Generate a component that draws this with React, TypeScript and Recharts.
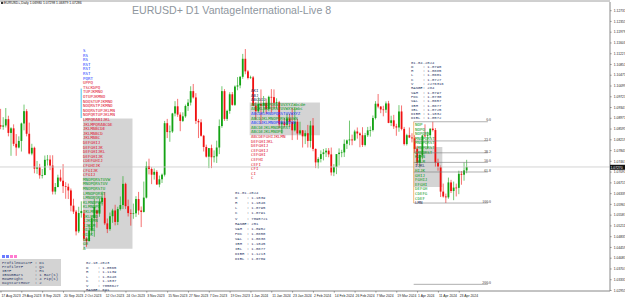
import React from "react";
import {
  ComposedChart,
  Bar,
  XAxis,
  YAxis,
  ReferenceLine,
  ReferenceArea,
} from "recharts";

// daily OHLC, 17 Aug 2023 .. 26 Apr 2024
const opens = [
  1.0873, 1.0868, 1.0872, 1.0894, 1.0846, 1.0862, 1.0808, 1.0795, 1.0818, 1.0879, 1.0922,
  1.0843, 1.0774, 1.0794, 1.0721, 1.0726, 1.0698, 1.0699, 1.0752, 1.0753, 1.0732, 1.0641, 1.0657, 1.069, 1.0679, 1.066, 1.0658, 1.0645, 1.0592, 1.0571, 1.0502, 1.0566,
  1.0565, 1.0476, 1.0468, 1.0505, 1.0548, 1.0575, 1.0564, 1.0605, 1.0619, 1.053, 1.051, 1.0555, 1.0575, 1.0535, 1.058, 1.0594, 1.0668, 1.059, 1.0566, 1.0564, 1.0565, 1.0615,
  1.0575, 1.057, 1.062, 1.073, 1.072, 1.07, 1.071, 1.0666, 1.0684, 1.07, 1.088, 1.0849, 1.0851, 1.0914, 1.0939, 1.091, 1.0888, 1.0904, 1.094, 1.0952, 1.0992, 1.097,
  1.0888, 1.0883, 1.0836, 1.0797, 1.0763, 1.0793, 1.0761, 1.0764, 1.0795, 1.087, 1.0992, 1.0895, 1.0923, 1.0981, 1.0944, 1.1008, 1.1012, 1.1042, 1.1105, 1.1061,
  1.1039, 1.104, 1.0941, 1.0922, 1.0947, 1.0941, 1.0951, 1.093, 1.0972, 1.0971, 1.0951, 1.0953, 1.0876, 1.0883, 1.0874, 1.0897, 1.0884, 1.0855, 1.0885, 1.0844, 1.0855, 1.0834, 1.0845,
  1.0818, 1.0872, 1.079, 1.0743, 1.0755, 1.0772, 1.0778, 1.0784, 1.0771, 1.0708, 1.0727, 1.0772, 1.0777, 1.0778, 1.0808, 1.082, 1.0823, 1.082, 1.0851, 1.0844, 1.0838,
  1.0804, 1.0838, 1.0855, 1.0856, 1.0898, 1.0948, 1.0938, 1.0928, 1.0927, 1.0949, 1.0881, 1.089, 1.0869, 1.0865, 1.0921, 1.086, 1.0807, 1.0838, 1.083, 1.0827,
  1.079, 1.0741, 1.0769, 1.0837, 1.0837, 1.0838, 1.0861, 1.0856, 1.0742, 1.0727, 1.0641, 1.0624, 1.0621, 1.0673, 1.0643, 1.0655, 1.0654, 1.0703, 1.07, 1.0715,
];
const highs = [
  1.093, 1.0901, 1.0933, 1.0906, 1.0866, 1.0876, 1.0842, 1.0834, 1.0882, 1.0945, 1.0929,
  1.0882, 1.0808, 1.0798, 1.0748, 1.0738, 1.072, 1.0767, 1.0769, 1.0768, 1.0768, 1.0671, 1.07, 1.0718, 1.0737, 1.0674, 1.0669, 1.0652, 1.0616, 1.0577, 1.0588, 1.0607,
  1.0577, 1.0482, 1.0525, 1.0553, 1.0618, 1.0578, 1.0617, 1.0641, 1.0639, 1.0547, 1.0568, 1.0581, 1.0595, 1.0588, 1.0624, 1.0695, 1.0672, 1.0613, 1.0579, 1.0599, 1.0625, 1.064,
  1.0589, 1.0676, 1.0746, 1.0756, 1.0726, 1.0722, 1.0716, 1.0697, 1.0704, 1.0888, 1.0895, 1.0872, 1.0916, 1.0957, 1.0965, 1.0918, 1.0918, 1.0945, 1.0964, 1.1009, 1.1017, 1.0985,
  1.0895, 1.0894, 1.0839, 1.0805, 1.0793, 1.0805, 1.0785, 1.0819, 1.0893, 1.1009, 1.0999, 1.0927, 1.0988, 1.0989, 1.1012, 1.1041, 1.1045, 1.1122, 1.1139, 1.1066,
  1.1046, 1.1045, 1.0953, 1.097, 1.0998, 1.0975, 1.0966, 1.0976, 1.0999, 1.0998, 1.0967, 1.0958, 1.089, 1.0898, 1.0914, 1.0912, 1.0933, 1.0933, 1.0896, 1.0885, 1.0856, 1.0855, 1.0874,
  1.0888, 1.0898, 1.0792, 1.0761, 1.0785, 1.079, 1.0793, 1.0793, 1.0795, 1.0737, 1.0771, 1.0792, 1.0787, 1.0823, 1.0823, 1.0889, 1.084, 1.0857, 1.0865, 1.0848, 1.0866,
  1.0846, 1.0867, 1.0869, 1.0907, 1.0957, 1.0982, 1.094, 1.0941, 1.0956, 1.0958, 1.0906, 1.0909, 1.0878, 1.0943, 1.0942, 1.0867, 1.0843, 1.0865, 1.0845, 1.0838,
  1.0801, 1.0774, 1.084, 1.0876, 1.085, 1.0861, 1.0885, 1.0863, 1.0756, 1.0732, 1.0669, 1.0634, 1.069, 1.0682, 1.0676, 1.0669, 1.0714, 1.0713, 1.0743, 1.0752,
];
const lows = [
  1.0859, 1.0857, 1.0865, 1.0834, 1.0766, 1.08, 1.0766, 1.0792, 1.0781, 1.0855, 1.0834,
  1.0771, 1.0768, 1.0705, 1.0703, 1.0686, 1.0687, 1.0698, 1.0732, 1.0716, 1.0631, 1.0631, 1.0656, 1.0675, 1.0636, 1.0616, 1.0615, 1.0572, 1.0563, 1.0488, 1.0496, 1.055,
  1.0468, 1.0448, 1.0467, 1.0492, 1.0483, 1.0515, 1.0553, 1.0592, 1.0524, 1.0496, 1.0504, 1.0532, 1.0523, 1.0524, 1.0575, 1.058, 1.058, 1.0554, 1.0522, 1.0546, 1.0552, 1.056,
  1.0517, 1.0568, 1.0617, 1.0701, 1.0667, 1.0683, 1.0664, 1.0656, 1.0671, 1.0694, 1.0828, 1.0815, 1.0846, 1.0904, 1.0902, 1.0852, 1.0884, 1.0899, 1.0923, 1.0942, 1.0966, 1.0877,
  1.0828, 1.0833, 1.0781, 1.076, 1.0723, 1.0723, 1.0743, 1.0741, 1.0772, 1.0864, 1.0888, 1.0888, 1.0913, 1.0941, 1.094, 1.0995, 1.1002, 1.1035, 1.1051, 1.1033,
  1.1035, 1.094, 1.0892, 1.0915, 1.0877, 1.0915, 1.0912, 1.0922, 1.0917, 1.0932, 1.0931, 1.0862, 1.0844, 1.0867, 1.0867, 1.0868, 1.0821, 1.0851, 1.0822, 1.0838, 1.0795, 1.0807, 1.0795,
  1.0795, 1.0782, 1.0723, 1.0722, 1.0743, 1.075, 1.0762, 1.0761, 1.0697, 1.0695, 1.0702, 1.0732, 1.0761, 1.0762, 1.079, 1.0803, 1.0803, 1.0818, 1.0826, 1.0796, 1.0797,
  1.0799, 1.0832, 1.0833, 1.0851, 1.0893, 1.0932, 1.0915, 1.0904, 1.0916, 1.088, 1.087, 1.086, 1.0836, 1.085, 1.0855, 1.0802, 1.0802, 1.0828, 1.0813, 1.0776,
  1.0732, 1.0724, 1.0754, 1.0831, 1.0791, 1.0828, 1.0851, 1.0727, 1.0714, 1.0622, 1.062, 1.0601, 1.0616, 1.0636, 1.0611, 1.0624, 1.0632, 1.0665, 1.0679, 1.0705,
];
const closes = [
  1.0868, 1.0872, 1.0894, 1.0846, 1.0862, 1.0808, 1.0795, 1.0818, 1.0879, 1.0922, 1.0843,
  1.0774, 1.0794, 1.0721, 1.0726, 1.0698, 1.0699, 1.0752, 1.0753, 1.0732, 1.0641, 1.0657, 1.069, 1.0679, 1.066, 1.0658, 1.0645, 1.0592, 1.0571, 1.0502, 1.0566, 1.0573,
  1.0476, 1.0468, 1.0505, 1.0548, 1.0588, 1.0564, 1.0605, 1.0619, 1.053, 1.051, 1.0555, 1.0575, 1.0535, 1.058, 1.0594, 1.0668, 1.059, 1.0566, 1.0564, 1.0565, 1.0615, 1.0575,
  1.057, 1.062, 1.073, 1.072, 1.07, 1.071, 1.0666, 1.0684, 1.07, 1.088, 1.0849, 1.0851, 1.0914, 1.0939, 1.091, 1.0888, 1.0904, 1.094, 1.0952, 1.0992, 1.097, 1.0888,
  1.0883, 1.0836, 1.0797, 1.0763, 1.0793, 1.0761, 1.0764, 1.0795, 1.087, 1.0992, 1.0895, 1.0923, 1.0981, 1.0944, 1.1008, 1.1012, 1.1042, 1.1105, 1.1061, 1.1038,
  1.104, 1.0941, 1.0922, 1.0947, 1.0941, 1.0951, 1.093, 1.0972, 1.0971, 1.0951, 1.0953, 1.0876, 1.0883, 1.0874, 1.0897, 1.0884, 1.0855, 1.0885, 1.0844, 1.0855, 1.0834, 1.0845, 1.0818,
  1.0872, 1.079, 1.0743, 1.0755, 1.0772, 1.0778, 1.0784, 1.0771, 1.0708, 1.0727, 1.0772, 1.0777, 1.0778, 1.0808, 1.082, 1.0823, 1.082, 1.0851, 1.0844, 1.0838, 1.0804,
  1.0838, 1.0855, 1.0856, 1.0898, 1.0948, 1.0938, 1.0928, 1.0927, 1.0949, 1.0881, 1.089, 1.0869, 1.0865, 1.0921, 1.086, 1.0807, 1.0838, 1.083, 1.0827, 1.079,
  1.0741, 1.0769, 1.0837, 1.0836, 1.0838, 1.0861, 1.0856, 1.0742, 1.0727, 1.0641, 1.0624, 1.0621, 1.0673, 1.0643, 1.0655, 1.0654, 1.0703, 1.07, 1.0715, 1.0727,
];

const dateTickIdx = [0, 8, 16, 24, 32, 40, 48, 56, 64, 72, 80, 88, 96, 104, 112, 120, 128, 136, 144, 152, 160, 168, 176];
const dateLabels = [
  "17 Aug 2023", "29 Aug 2023", "8 Sep 2023", "20 Sep 2023", "2 Oct 2023", "12 Oct 2023",
  "24 Oct 2023", "3 Nov 2023", "15 Nov 2023", "27 Nov 2023", "7 Dec 2023", "19 Dec 2023",
  "1 Jan 2024", "11 Jan 2024", "23 Jan 2024", "2 Feb 2024", "14 Feb 2024", "26 Feb 2024",
  "7 Mar 2024", "19 Mar 2024", "1 Apr 2024", "11 Apr 2024", "23 Apr 2024",
];
const priceTicks = [
  1.02955, 1.03331, 1.03707, 1.04083, 1.04459, 1.04835, 1.05211, 1.05587, 1.05963,
  1.06339, 1.06715, 1.07091, 1.07467, 1.07843, 1.08219, 1.08595, 1.08971, 1.09347,
  1.09723, 1.10099, 1.10475, 1.10851, 1.11227, 1.11603, 1.11979, 1.12355, 1.12731,
];
const lastPrice = 1.0727;

// quarterly profiles: value area boxes [fromIdx, toIdx, low, high]
const valueAreas = [
  [31.5, 50.5, 1.0441, 1.0896],
  [95.5, 122.5, 1.0838, 1.0952],
  [158.5, 169.5, 1.0657, 1.0797],
];
// fibo on the April swing
const fiboLevels = [1.0885, 1.0818, 1.07765, 1.0743, 1.07095, 1.0601, 1.0317];
const fiboLabels = ["0.0", "23.6", "38.2", "50.0", "61.8", "100.0", "200.0"];

const q4Info = ["02.10.2023", "O    : 1.0565", "H    : 1.1139", "L    : 1.0448", "C    : 1.1037", "V    : 7050627", "RANGE: 691"];
const q1Info = ["01.01.2024", "O    : 1.1039", "H    : 1.1046", "L    : 1.0795", "C    : 1.0791", "V    : 7090721", "RANGE: 251", "VAH  : 1.0952", "POC  : 1.0850", "VAL  : 1.0838", "IBH  : 1.1045", "IBL  : 1.0877", "DIBH : 1.1213", "DIBL : 1.0709"];
const q2Info = ["01.04.2024", "O    : 1.0790", "H    : 1.0885", "L    : 1.0601", "C    : 1.0727", "V    : 2276316", "RANGE: 284", "VAH  : 1.0797", "POC  : 1.0730", "VAL  : 1.0657", "IBH  : 1.0877", "IBL  : 1.0725", "DIBH : 1.1032", "DIBL : 1.0572"];
const settings = ["ProfileDataTF : D1", "ProfileTF     : Q1", "IBTF          : H1", "IBNumBars     : 1 Bar(s)", "RowHeight     : 4 Pip(s)", "DayStartHour  : 2"];

const q4Rows: [string, string][] = [
  ["S", "b"], ["RS", "b"], ["RS", "b"], ["RST", "b"], ["RST", "b"], ["RST", "b"], ["PQRT", "b"],
  ["UPPQ", "r"], ["TSCKDPQ", "r"], ["TUPJKMNO", "r"], ["OTUPJKMNO", "r"], ["NOQSTUPJKMNO", "r"],
  ["NOQRSTPJKMNO", "r"], ["NOQRSTUPJKLMN", "r"], ["NOPQRTUPJKLMN", "r"], ["LMPQRABIJKL", "r"],
  ["JKLMPQRABCDE", "r"], ["JKLMABCDE", "r"], ["JKLMABCD", "r"], ["JKLMABC", "r"], ["DEFGHIJ", "r"],
  ["DEFGHIJK", "r"], ["DEFGHIJKL", "r"], ["DEFGHIJK", "r"], ["CDEFGHIJ", "r"], ["CFGHIJK", "r"],
  ["CFGIJK", "r"], ["CFGIJ", "r"], ["MNOPQRSTUVW", "g"], ["MNOPQRSTUV", "g"], ["MNOPQRSTU", "g"],
  ["LMNOPQRST", "g"], ["LMNOPQRS", "g"], ["KLMNOPQR", "g"], ["KLMNOPQ", "g"], ["JKLMNOP", "g"],
  ["JKLMNO", "g"], ["IJKLMN", "g"], ["IJKLM", "g"], ["HIJKL", "g"], ["HIJK", "g"], ["GHI", "g"],
  ["GH", "g"], ["A", "g"],
];
const q1Rows: [string, string][] = [
  ["AKI", "n"], ["ABJ", "n"], ["ABCDIJ", "n"],
  ["ABCKLNOPQRSTUVXYZabcde", "g"], ["ABCKLNOPQRSTUVWXYZabc", "g"], ["ABCDKLMNOPQRSTUVWXYZ", "b"],
  ["ABCDJKLMNOPQRSTUVWX", "g"], ["ABCDJKLMNOPQRSTUVW", "b"], ["ABCDEJKLMNOPQRST", "g"],
  ["ABCDEJKLMNOPQ", "g"], ["ABCDEFGHIJKLMN", "r"], ["DEFGHIJKL", "r"], ["DEFGHIJ", "r"],
  ["CEFGHIJ", "r"], ["CEFGHI", "r"], ["CEFHI", "r"], ["CEFI", "r"], ["CFI", "r"], ["CI", "r"], ["C", "r"],
];
const q2Rows: [string, string][] = [
  ["NOP", "g"], ["NOPQ", "g"], ["NOPQRS", "g"], ["MNOPQRST", "g"], ["MNOPQRST", "g"],
  ["LMNPQRST", "g"], ["LMNQRST", "g"], ["KLMN", "g"], ["JKLM", "g"], ["IJKL", "n"],
  ["HIJK", "g"], ["GHIJ", "g"], ["FGHIJ", "g"], ["EFGHI", "g"], ["DEFGH", "g"], ["CDEFG", "g"],
  ["CDEF", "g"], ["LMN", "n"],
];

const UP = "#14a314";
const DOWN = "#f01010";
const rowColors: Record<string, string> = { b: "#1a3cff", r: "#e0102e", g: "#0a9a1a", n: "#23305a" };

const candles = closes.map((c, i) => ({
  i,
  o: opens[i],
  h: highs[i],
  l: lows[i],
  c,
  range: [lows[i], highs[i]],
}));

const Candle = (props: any) => {
  const { x, y, width, height, payload } = props;
  if (!payload || height == null) return null;
  const { o, h, l, c } = payload;
  const color = c >= o ? UP : DOWN;
  const k = h > l ? height / (h - l) : 0;
  const yo = y + (h - o) * k;
  const yc = y + (h - c) * k;
  const cx = x + width / 2;
  const top = Math.min(yo, yc);
  const bh = Math.max(Math.abs(yc - yo), 0.7);
  return (
    <g>
      <line x1={cx} x2={cx} y1={y} y2={y + height} stroke={color} strokeWidth={0.6} />
      <rect x={x} y={top} width={width} height={bh} fill={color} />
    </g>
  );
};

const DateTick = (props: any) => {
  const { x, y, payload } = props;
  const k = dateTickIdx.indexOf(payload.value);
  return (
    <text x={x + 0.5} y={y + 2.4} fontSize={3.4} fill="#222" textAnchor="start" fontFamily="Liberation Sans, Arial">
      {k >= 0 ? dateLabels[k] : ""}
    </text>
  );
};

const PriceTick = (props: any) => {
  const { x, y, payload } = props;
  return (
    <text x={x + 0.3} y={y + 1.2} fontSize={3.3} fill="#222" textAnchor="start" fontFamily="Liberation Sans, Arial">
      {payload.value.toFixed(5)}
    </text>
  );
};

const Rows = ({ rows, x, y0, step }: { rows: [string, string][]; x: number; y0: number; step: number }) => (
  <g>
    {rows.map(([t, c], k) => (
      <text key={k} x={x} y={y0 + k * step} fontSize={4.1} fill={rowColors[c]} fontFamily="DejaVu Sans Mono, monospace">
        {t}
      </text>
    ))}
  </g>
);

const Info = ({ lines, x, y0, step }: { lines: string[]; x: number; y0: number; step: number }) => (
  <g>
    {lines.map((t, k) => (
      <text key={k} x={x} y={y0 + k * step} fontSize={3.9} fill="#2b3a67" fontFamily="Liberation Mono, monospace" style={{ whiteSpace: "pre" }}>
        {t}
      </text>
    ))}
  </g>
);

export default function App() {
  return (
    <div style={{ position: "relative", width: 625, height: 298, background: "#fff", overflow: "hidden" }}>
      <style>{"body{margin:0}"}</style>
      <ComposedChart width={625} height={298} data={candles} margin={{ top: 2, right: 0, bottom: 0, left: 0 }}>
        <XAxis
          type="number"
          dataKey="i"
          domain={[-0.38, 233.9]}
          allowDataOverflow
          ticks={dateTickIdx}
          tick={<DateTick />}
          height={7}
          tickSize={1.5}
          stroke="#888"
          interval={0}
        />
        <YAxis
          orientation="right"
          domain={[1.02937, 1.13034]}
          allowDataOverflow
          ticks={priceTicks}
          tick={<PriceTick />}
          width={15}
          tickSize={1.5}
          stroke="#888"
          interval={0}
        />
        {valueAreas.map((a, k) => (
          <ReferenceArea key={k} x1={a[0]} x2={a[1]} y1={a[2]} y2={a[3]} fill="#cfcfcf" fillOpacity={0.9} stroke="none" ifOverflow="hidden" />
        ))}
        <ReferenceLine y={lastPrice} stroke="#c8c8c8" strokeWidth={0.8} />
        {fiboLevels.map((p, k) => (
          <ReferenceLine
            key={k}
            segment={[{ x: 158.5, y: p }, { x: 187, y: p }]}
            stroke="#7a7a7a"
            strokeWidth={0.6}
            ifOverflow="hidden"
            label={{ value: fiboLabels[k], position: "insideTopRight", fontSize: 3.8, fill: "#333", offset: -3 }}
          />
        ))}
        <ReferenceLine segment={[{ x: 158.5, y: 1.0885 }, { x: 158.5, y: 1.0601 }]} stroke="#f08a20" strokeWidth={0.6} />
        <ReferenceLine segment={[{ x: 30.8, y: 1.1001 }, { x: 30.8, y: 1.0898 }]} stroke="#19b5e8" strokeWidth={0.8} />
        <Bar dataKey="range" barSize={1.8} shape={<Candle />} isAnimationActive={false} />
      </ComposedChart>
      <svg width={625} height={298} style={{ position: "absolute", left: 0, top: 0, pointerEvents: "none" }}>
        <line x1={0} x2={610} y1={1} y2={1} stroke="#888" strokeWidth={0.8} />
        <text x={4} y={4.3} fontSize={3.4} fill="#111" fontFamily="Liberation Sans, Arial">
          EURUSD+,Daily  1.06980 1.07298 1.06879 1.07286
        </text>
        <rect x={1} y={1.8} width={2.2} height={2.2} fill="#333" />
        <text x={132} y={14} fontSize={10.6} fill="#8e969e" fontFamily="Liberation Sans, Arial">
          EURUSD+ D1 VantageInternational-Live 8
        </text>
        <Rows rows={q4Rows} x={83} y0={52} step={4.6} />
        <Rows rows={q1Rows} x={251} y0={92} step={4.6} />
        <Rows rows={q2Rows} x={415} y0={126} step={4.6} />
        <Info lines={q2Info} x={411} y0={63.5} step={4.3} />
        <Info lines={q1Info} x={235} y0={194} step={5.1} />
        <Info lines={q4Info} x={86} y0={264} step={4.5} />
        <rect x={0} y={259} width={61} height={27} fill="#d3d3d3" />
        <rect x={2} y={255} width={3} height={3} fill="#6b7bff" />
        <rect x={6} y={255} width={3} height={3} fill="#6b7bff" />
        <rect x={10} y={255} width={3} height={3} fill="#ff7bd0" />
        <rect x={14} y={255} width={3} height={3} fill="#ff7bd0" />
        <Info lines={settings} x={2} y0={264} step={3.9} />
        <rect x={610} y={164.8} width={15} height={5} fill="#111" />
        <text x={610.6} y={168.5} fontSize={3.3} fill="#fff" fontFamily="Liberation Sans, Arial">
          {lastPrice.toFixed(5)}
        </text>
      </svg>
    </div>
  );
}
